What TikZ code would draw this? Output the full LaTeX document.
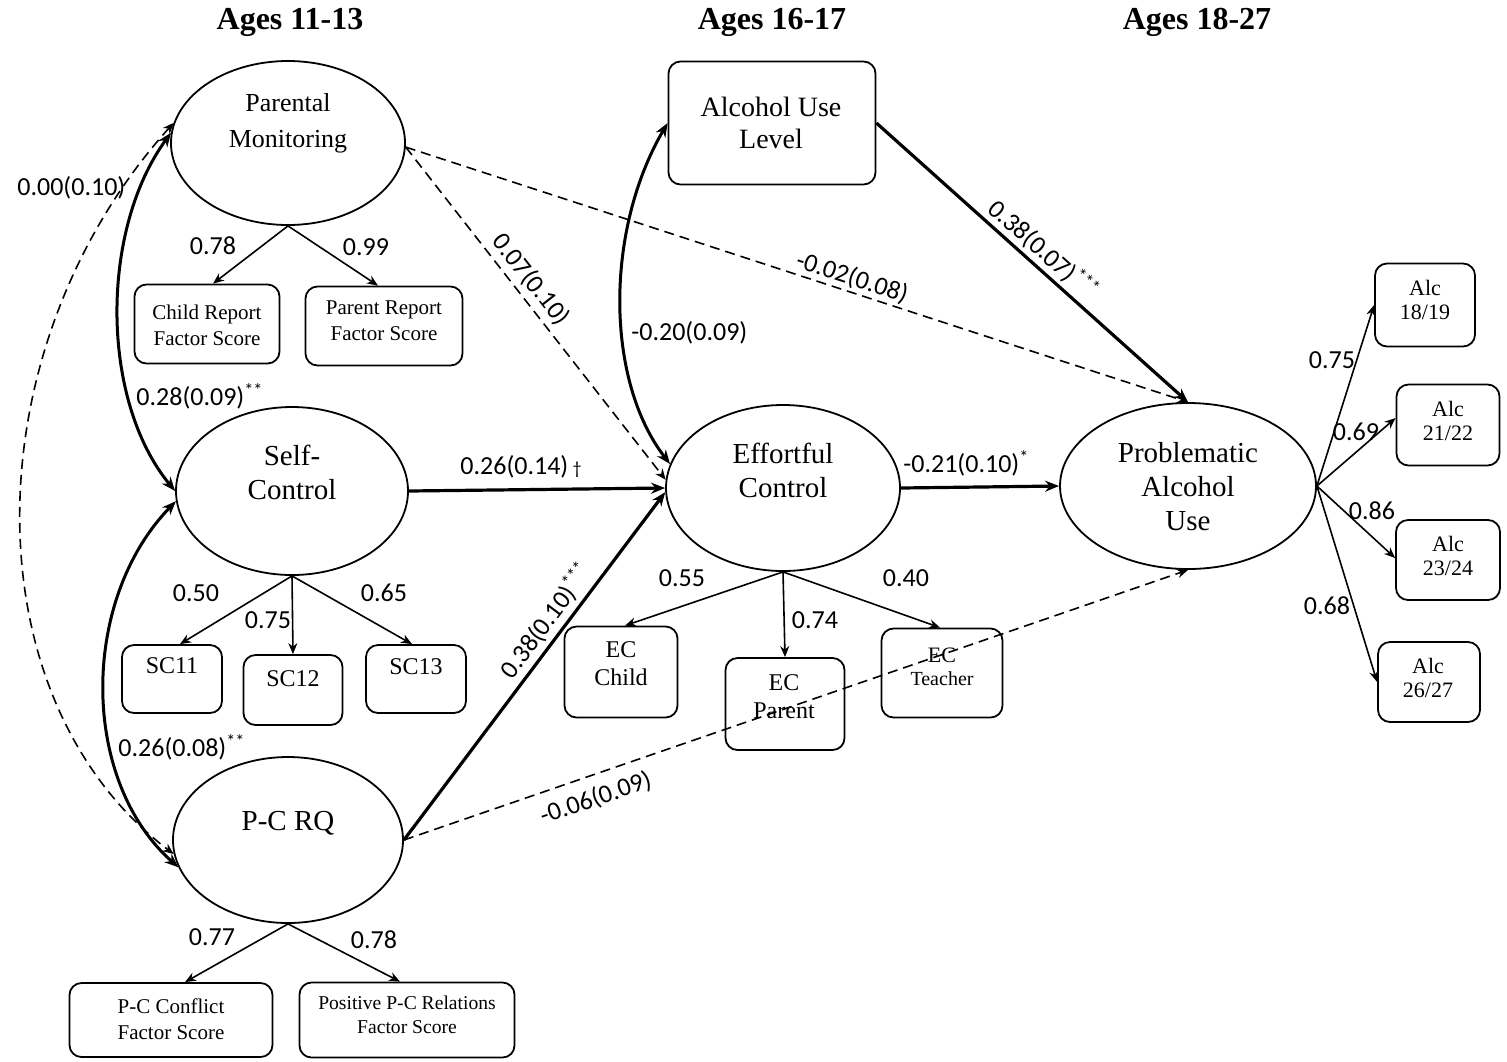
\documentclass[tikz,border=0pt]{standalone}
\usepackage{fontspec}
\setmainfont{Liberation Serif}
\newfontfamily\labfont{Carlito}
\usetikzlibrary{shapes.geometric,arrows.meta}
\begin{document}
\begin{tikzpicture}[x=0.5pt,y=-0.5pt,
  lat/.style={ellipse, draw, line width=0.9pt, inner sep=0pt},
  obs/.style={rectangle, rounded corners=6pt, draw, line width=0.9pt, inner sep=0pt},
  txt/.style={align=center, inner sep=0pt},
  bigtxt/.style={txt, font=\fontsize{14.5}{17}\selectfont},
  smalltxt/.style={txt, font=\fontsize{10.5}{13}\selectfont},
  midtxt/.style={txt, font=\fontsize{12}{14}\selectfont},
  alctxt/.style={txt, font=\fontsize{11}{12}\selectfont},
  lbl/.style={font=\labfont\fontsize{13}{15}\selectfont, inner sep=1pt},
  ttl/.style={font=\bfseries\fontsize{16}{18}\selectfont},
  ldarrow/.style={-{Stealth[length=5.5pt,width=4.5pt]}, line width=0.8pt},
  spath/.style={-{Stealth[length=7pt,width=5.5pt]}, line width=1.6pt},
  dpath/.style={-{Stealth[length=5.5pt,width=4.5pt]}, line width=0.8pt, dash pattern=on 5pt off 3pt},
  cov/.style={{Stealth[length=7pt,width=5.5pt]}-{Stealth[length=7pt,width=5.5pt]}, line width=1.5pt},
  dcov/.style={{Stealth[length=5.5pt,width=4.5pt]}-{Stealth[length=5.5pt,width=4.5pt]}, line width=0.8pt, dash pattern=on 5pt off 3pt},
]
\useasboundingbox (0,0) rectangle (1507,1061);
\fill[white] (0,0) rectangle (1507,1061);

% titles
\node[ttl] (t1) at (290,22) {Ages 11-13};
\node[ttl] (t2) at (772,22) {Ages 16-17};
\node[ttl] (t3) at (1197,22) {Ages 18-27};

% latent variables
\node[lat, minimum width=117pt, minimum height=82pt] (pm) at (288,143) {};
\node[txt, font=\fontsize{13}{18}\selectfont] (pmt) at (288,123) {Parental\\Monitoring};
\node[lat, minimum width=116pt, minimum height=84pt] (sc) at (292,491) {};
\node[bigtxt] (sct) at (292,472) {Self-\\Control};
\node[lat, minimum width=115pt, minimum height=83pt] (pcrq) at (288,840) {};
\node[bigtxt] (pcrqt) at (288,823) {P-C RQ};
\node[lat, minimum width=117pt, minimum height=83pt] (ec) at (783,488) {};
\node[bigtxt] (ect0) at (783,470) {Effortful\\Control};
\node[lat, minimum width=128pt, minimum height=83pt] (pau) at (1188,486) {};
\node[bigtxt] (paut) at (1188,487) {Problematic\\Alcohol\\Use};

% observed
\node[obs, minimum width=103.5pt, minimum height=61.5pt] (aul) at (772,123) {};
\node[txt, font=\fontsize{14}{16}\selectfont] (ault) at (771,123) {Alcohol Use\\Level};
\node[obs, minimum width=72.5pt, minimum height=39.5pt] (crfs) at (207,324) {};
\node[smalltxt] (crfst) at (207,325) {Child Report\\Factor Score};
\node[obs, minimum width=78.5pt, minimum height=39.5pt] (prfs) at (384,326) {};
\node[smalltxt] (prfst) at (384,321) {Parent Report\\Factor Score};
\node[obs, minimum width=50pt, minimum height=34pt] (sc11) at (172,679) {};
\node[midtxt] (sc11t) at (172,666) {SC11};
\node[obs, minimum width=49.5pt, minimum height=35pt] (sc12) at (293,690) {};
\node[midtxt] (sc12t) at (293,679) {SC12};
\node[obs, minimum width=50pt, minimum height=34pt] (sc13) at (416,679) {};
\node[midtxt] (sc13t) at (416,667) {SC13};
\node[obs, minimum width=101.5pt, minimum height=37pt] (pcc) at (171,1020) {};
\node[smalltxt] (pcct) at (171,1019) {P-C Conflict\\Factor Score};
\node[obs, minimum width=107.5pt, minimum height=37.5pt] (ppcr) at (407,1020) {};
\node[txt, font=\fontsize{9.8}{12}\selectfont] (ppcrt) at (407,1015) {Positive P-C Relations\\Factor Score};
\node[obs, minimum width=56.5pt, minimum height=45.5pt] (ecc) at (621,672) {};
\node[midtxt] (ecct) at (621,664) {EC\\Child};
\node[obs, minimum width=59.5pt, minimum height=46pt] (ecp) at (785,704) {};
\node[midtxt] (ecpt) at (784,697) {EC\\Parent};
\node[obs, minimum width=60.5pt, minimum height=44.5pt] (ect) at (942,673) {};
\node[txt, font=\fontsize{11}{11.5}\selectfont] (ectt) at (942,667) {EC\\{\fontsize{10}{11.5}\selectfont Teacher}};
\node[obs, minimum width=50pt, minimum height=41.5pt] (a1819) at (1425,305) {};
\node[alctxt] (a1819t) at (1425,300) {Alc\\18/19};
\node[obs, minimum width=51.5pt, minimum height=40.5pt] (a2122) at (1448,425) {};
\node[alctxt] (a2122t) at (1448,421) {Alc\\21/22};
\node[obs, minimum width=52pt, minimum height=40pt] (a2324) at (1448,560) {};
\node[alctxt] (a2324t) at (1448,556) {Alc\\23/24};
\node[obs, minimum width=51pt, minimum height=40pt] (a2627) at (1429,682) {};
\node[alctxt] (a2627t) at (1428,678) {Alc\\26/27};

% loadings
\draw[ldarrow] (pm.south) -- ([xshift=3pt]crfs.north);
\draw[ldarrow] (pm.south) -- ([xshift=-3pt]prfs.north);
\draw[ldarrow] (sc.south) -- ([xshift=4pt]sc11.north);
\draw[ldarrow] (sc.south) -- (sc12.north);
\draw[ldarrow] (sc.south) -- ([xshift=-2pt]sc13.north);
\draw[ldarrow] (pcrq.south) -- ([xshift=7pt]pcc.north);
\draw[ldarrow] (pcrq.south) -- ([xshift=-3.5pt]ppcr.north);
\draw[ldarrow] (ec.south) -- ([xshift=2pt]ecc.north);
\draw[ldarrow] (ec.south) -- (ecp.north);
\draw[ldarrow] (ec.south) -- ([xshift=-1pt]ect.north);
\draw[ldarrow] (pau.east) -- (a1819.west);
\draw[ldarrow] (pau.east) -- ([yshift=3.5pt]a2122.west);
\draw[ldarrow] (pau.east) -- ([yshift=1pt]a2324.west);
\draw[ldarrow] (pau.east) -- (a2627.west);

% structural paths
\draw[spath] (aul.east) -- node[lbl, sloped, pos=0.5, above=0.5pt] (laulpau) {0.38(0.07)\textsuperscript{***}} (pau.north);
\draw[dpath] (pm.358) -- node[lbl, sloped, pos=0.565, above=0pt] (lpmpau) {-0.02(0.08)} (pau.north);
\draw[dpath] (pm.358) -- node[lbl, sloped, pos=0.43, above=1.5pt] (lpmec) {0.07(0.10)} (ec.176);
\draw[spath] (sc.east) -- (ec.west);
\draw[spath] (pcrq.east) -- node[lbl, sloped, pos=0.6, above=1pt] (lpcrqec) {0.38(0.10)\textsuperscript{***}} (ec.182);
\draw[spath] (ec.east) -- (pau.west);
\draw[dpath] (pcrq.east) -- node[lbl, sloped, pos=0.235, below=4.5pt] (lpcrqpau) {-0.06(0.09)} (pau.south);

% covariances
\draw[cov] (aul.west) .. controls (605,230) and (605,380) .. (ec.168);
\draw[cov] (pm.175) .. controls (100,230) and (100,400) .. (sc.west);
\draw[cov] (sc.185) .. controls (80,600) and (80,780) .. (pcrq.194);
\draw[dcov] (pm.170) .. controls (-30,350) and (-30,700) .. (pcrq.187);

% labels
\node[lbl] (lpmcr) at (213,246) {0.78};
\node[lbl] (lpmpr) at (366,247) {0.99};
\node[lbl] (lsc11) at (196,593) {0.50};
\node[lbl] (lsc12) at (268,620) {0.75};
\node[lbl] (lsc13) at (384,593) {0.65};
\node[lbl] (lpcc) at (212,937) {0.77};
\node[lbl] (lppcr) at (374,940) {0.78};
\node[lbl] (lecc) at (682,578) {0.55};
\node[lbl] (lecp) at (815,620) {0.74};
\node[lbl] (lect) at (906,578) {0.40};
\node[lbl] (la1) at (1332,360) {0.75};
\node[lbl] (la2) at (1356,432) {0.69};
\node[lbl] (la3) at (1372,511) {0.86};
\node[lbl] (la4) at (1327,606) {0.68};

\node[lbl, anchor=west] (lcov1) at (15,188) {0.00(0.10)};
\node[lbl, anchor=west] (lcov2) at (134,396) {0.28(0.09)\textsuperscript{**}};
\node[lbl, anchor=west] (lcov3) at (116,747) {0.26(0.08)\textsuperscript{**}};
\node[lbl, anchor=west] (lcov4) at (629,333) {-0.20(0.09)};
\node[lbl, anchor=west] (lsc) at (458,467) {0.26(0.14)\,{\fontsize{9}{10}\selectfont †}};
\node[lbl, anchor=west] (lecpau) at (901,463) {-0.21(0.10)\textsuperscript{*}};
\end{tikzpicture}
\end{document}
